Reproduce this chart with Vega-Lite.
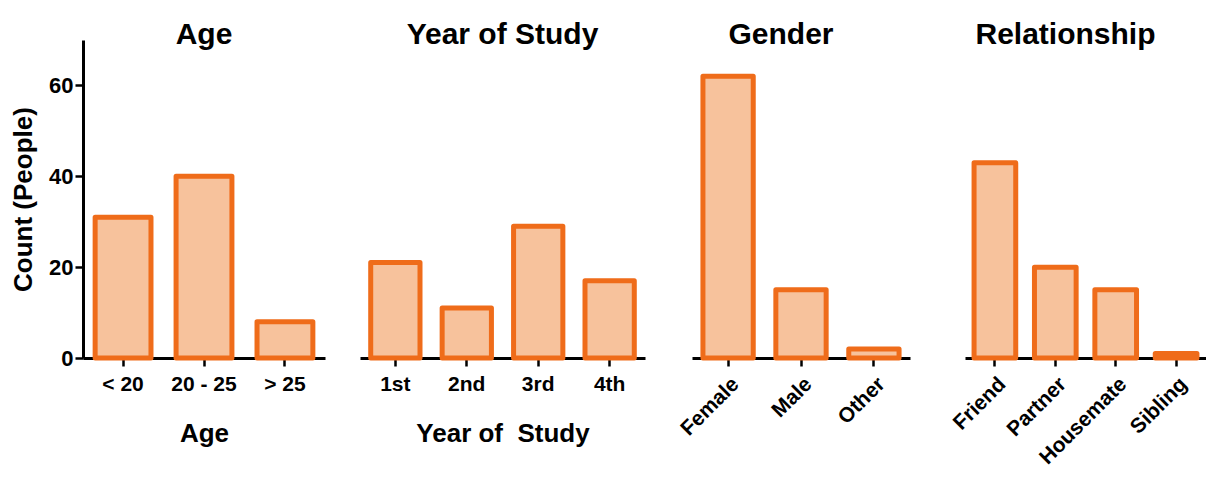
{
  "$schema": "https://vega.github.io/schema/vega-lite/v6.json",
  "padding": {"left": 10, "top": 20, "right": 0, "bottom": 0},
  "background": "white",
  "datasets": {
    "age": [{"category": "< 20", "count": 31}, {"category": "20 - 25", "count": 40}, {"category": "> 25", "count": 8}],
    "year": [{"category": "1st", "count": 21}, {"category": "2nd", "count": 11}, {"category": "3rd", "count": 29}, {"category": "4th", "count": 17}],
    "gender": [{"category": "Female", "count": 62}, {"category": "Male", "count": 15}, {"category": "Other", "count": 2}],
    "relationship": [{"category": "Friend", "count": 43}, {"category": "Partner", "count": 20}, {"category": "Housemate", "count": 15}, {"category": "Sibling", "count": 1}]
  },
  "bounds": "flush",
  "spacing": 35,
  "hconcat": [
    {
      "data": {"name": "age"},
      "title": {"text": "Age"},
      "width": 242,
      "height": 318,
      "mark": {"type": "bar", "fill": "#f7c29c", "stroke": "#ef6c1a", "strokeWidth": 5, "strokeJoin": "round"},
      "encoding": {
        "x": {"field": "category", "type": "nominal", "sort": null, "scale": {"paddingInner": 0.31, "paddingOuter": 0.15}, "axis": {"title": "Age", "labelAngle": 0}},
        "y": {"field": "count", "type": "quantitative", "scale": {"domain": [0, 70], "nice": false}, "axis": {"title": "Count (People)", "values": [0, 20, 40, 60], "labelFontSize": 22, "labelPadding": 2, "titlePadding": 12}}
      }
    },
    {
      "bounds": "flush",
      "spacing": 47,
      "hconcat": [
        {
          "data": {"name": "year"},
          "title": {"text": "Year of Study"},
          "width": 285,
          "height": 318,
          "mark": {"type": "bar", "fill": "#f7c29c", "stroke": "#ef6c1a", "strokeWidth": 5, "strokeJoin": "round"},
          "encoding": {
            "x": {"field": "category", "type": "nominal", "sort": null, "scale": {"paddingInner": 0.31, "paddingOuter": 0.15}, "axis": {"title": "Year of\u00a0 Study", "labelAngle": 0}},
            "y": {"field": "count", "type": "quantitative", "scale": {"domain": [0, 70], "nice": false}, "axis": null}
          }
        },
        {
          "bounds": "flush",
          "spacing": 55,
          "hconcat": [
            {
              "data": {"name": "gender"},
              "title": {"text": "Gender", "dx": -20},
              "width": 218,
              "height": 318,
              "mark": {"type": "bar", "fill": "#f7c29c", "stroke": "#ef6c1a", "strokeWidth": 5, "strokeJoin": "round"},
              "encoding": {
                "x": {"field": "category", "type": "nominal", "sort": null, "scale": {"paddingInner": 0.31, "paddingOuter": 0.15}, "axis": {"title": null, "labelAngle": -45}},
                "y": {"field": "count", "type": "quantitative", "scale": {"domain": [0, 70], "nice": false}, "axis": null}
              }
            },
            {
              "data": {"name": "relationship"},
              "title": {"text": "Relationship", "dx": -20},
              "width": 241,
              "height": 318,
              "mark": {"type": "bar", "fill": "#f7c29c", "stroke": "#ef6c1a", "strokeWidth": 5, "strokeJoin": "round"},
              "encoding": {
                "x": {"field": "category", "type": "nominal", "sort": null, "scale": {"paddingInner": 0.31, "paddingOuter": 0.15}, "axis": {"title": null, "labelAngle": -45}},
                "y": {"field": "count", "type": "quantitative", "scale": {"domain": [0, 70], "nice": false}, "axis": null}
              }
            }
          ]
        }
      ]
    }
  ],
  "config": {
    "view": {"stroke": null},
    "font": "Liberation Sans",
    "axis": {
      "domainColor": "black",
      "domainWidth": 3,
      "tickColor": "black",
      "tickWidth": 2.5,
      "tickSize": 8,
      "labelFont": "Liberation Sans",
      "labelFontWeight": "bold",
      "labelFontSize": 21,
      "labelColor": "black",
      "labelPadding": 7,
      "titleFont": "Liberation Sans",
      "titleFontSize": 26,
      "titleFontWeight": "bold",
      "titleColor": "black",
      "titlePadding": 26,
      "grid": false,
      "zindex": 1
    },
    "title": {"font": "Liberation Sans", "fontSize": 30, "fontWeight": "bold", "color": "black", "baseline": "alphabetic", "offset": -10}
  }
}
